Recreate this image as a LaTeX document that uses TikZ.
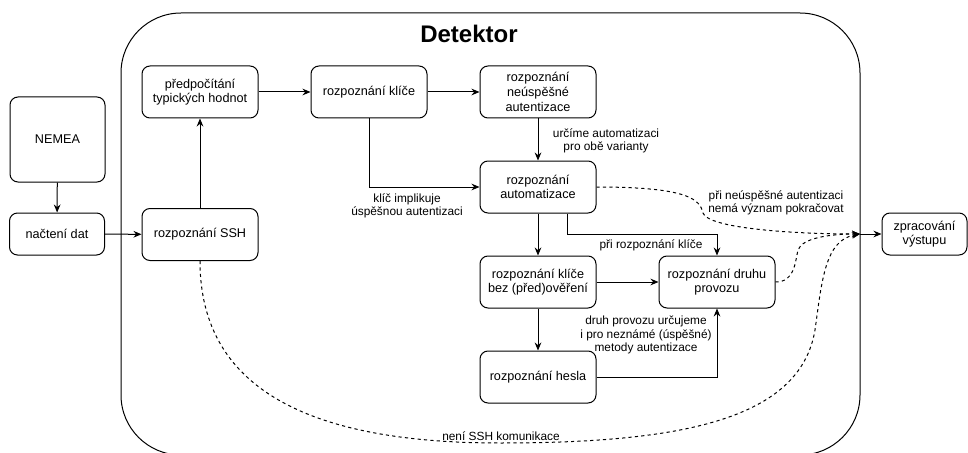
\documentclass[tikz,border=0pt]{standalone}
\usepackage{fontspec}
\setmainfont{Liberation Sans}
\usetikzlibrary{arrows.meta,positioning,calc}

\begin{document}
\begin{tikzpicture}[>={Stealth[length=6pt,width=5pt]}, x=0.75pt, y=-0.75pt, line width=0.75pt]
    % Define style for the nodes
    \tikzstyle{proc node} = [rectangle, draw, rounded corners=6pt, align=center, minimum width=87pt, minimum height=39pt, inner sep=2pt, font=\fontsize{9.5}{11}\selectfont]
    \tikzstyle{note node} = [align=center, inner sep=0pt, font=\fontsize{8.9}{10}\selectfont]
    \tikzstyle{skip line} = [dash pattern=on 2.4pt off 2.4pt]

    \useasboundingbox (0,0) rectangle (968,453);

    % Detector frame
    \begin{scope}
        \clip (0,0) rectangle (968,453);
        \draw[rounded corners=45pt] (121,13) rectangle (860,455);
    \end{scope}
    \node[font=\fontsize{18}{20}\selectfont\bfseries] (title) at (469,34) {Detektor};

    % Nodes
    \node[proc node, minimum width=71.25pt, minimum height=63.75pt] (nemea) at (57.5,139.5) {NEMEA};
    \node[proc node, minimum width=71.25pt, minimum height=31.5pt] (nacteni) at (57,234) {načtení dat};
    \node[proc node] (predpocet) at (200,92) {předpočítání\\typických hodnot};
    \node[proc node] (ssh) at (200,234.5) {rozpoznání SSH};
    \node[proc node] (klic) at (369,92) {rozpoznání klíče};
    \node[proc node] (neuspech) at (538,92) {rozpoznání\\neúspěšné\\autentizace};
    \node[proc node] (autom) at (538,187) {rozpoznání\\automatizace};
    \node[proc node] (bezover) at (538,282) {rozpoznání klíče\\bez (před)ověření};
    \node[proc node] (heslo) at (538,377) {rozpoznání hesla};
    \node[proc node] (druh) at (717,282) {rozpoznání druhu\\provozu};
    \node[proc node, minimum width=63.75pt, minimum height=31.5pt] (vystup) at (924.5,234) {zpracování\\výstupu};
    \coordinate (spoj) at (860,234);

    % Arrows
    \draw[->] (nemea) -- (nacteni);
    \draw[->] (nacteni) -- (ssh);
    \draw[->] (ssh) -- (predpocet);
    \draw[->] (predpocet) -- (klic);
    \draw[->] (klic) -- (neuspech);
    \draw[->] (neuspech) -- (autom);
    \draw[->] (klic.south) |- (autom.west);
    \draw[->] (autom) -- (bezover);
    \draw[->] ([xshift=21.75pt]autom.south) -- ++(0,21) -| (druh.north);
    \draw[->] (bezover) -- (druh);
    \draw[->] (bezover) -- (heslo);
    \draw[->] (heslo.east) -| (druh.south);
    \draw[->] (spoj) -- (vystup);

    % Dashed curves into the output
    \draw[->, skip line] (autom.east) .. controls (690,187) and (700,200) .. (703,213) .. controls (708,228) and (790,234) .. (spoj);
    \draw[->, skip line] (druh.east) .. controls (795,282) and (795,262) .. (798,250) .. controls (802,238) and (830,234) .. (spoj);
    \draw[->, skip line] (ssh.south) .. controls (200,395) and (320,443) .. (500,443) .. controls (680,443) and (800,420) .. (815,330) .. controls (822,280) and (825,240) .. (spoj);

    % Labels
    \node[note node] (lbl1) at (606,141) {určíme automatizaci\\pro obě varianty};
    \node[note node] (lbl2) at (407,206) {klíč implikuje\\úspěšnou autentizaci};
    \node[note node] (lbl3) at (651,245) {při rozpoznání klíče};
    \node[note node] (lbl4) at (646,335) {druh provozu určujeme\\i pro neznámé (úspěšné)\\metody autentizace};
    \node[note node] (lbl5) at (776,203) {při neúspěšné autentizaci\\nemá význam pokračovat};
    \node[note node] (lbl6) at (501,436) {není SSH komunikace};
\end{tikzpicture}
\end{document}
